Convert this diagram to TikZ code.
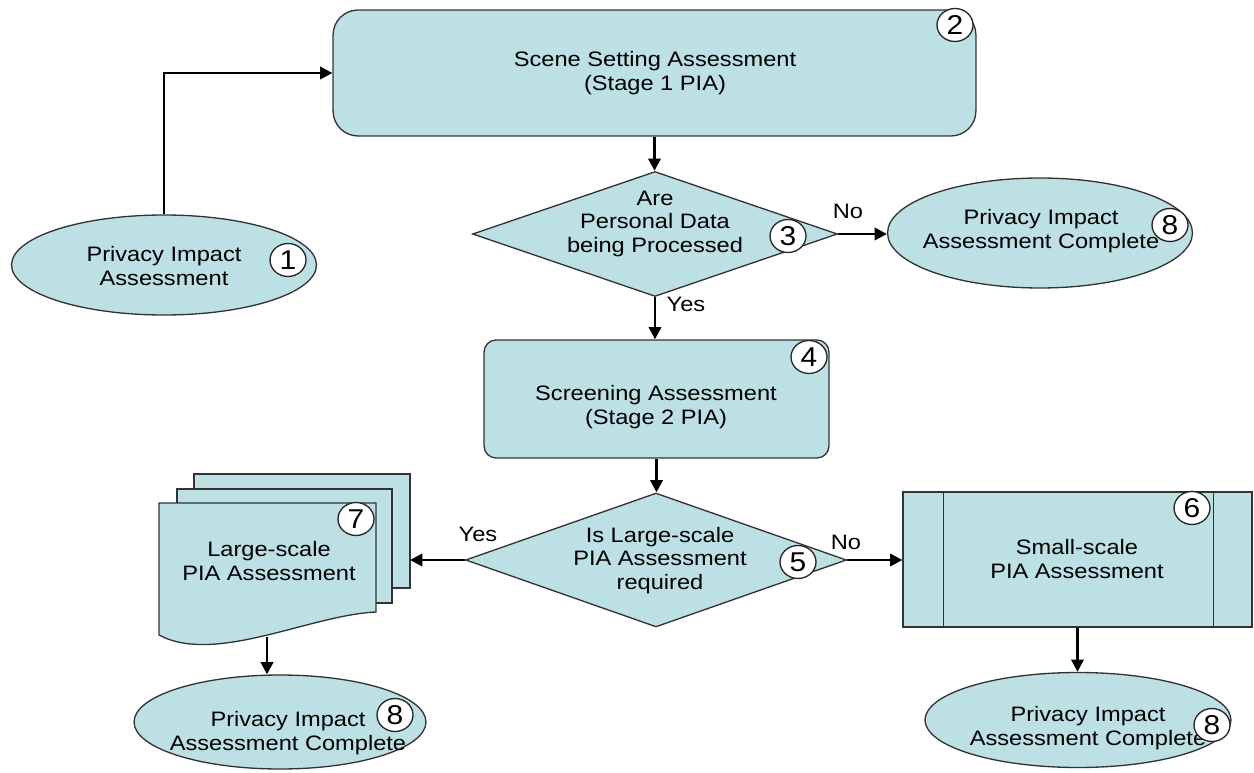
\documentclass[tikz,border=0pt]{standalone}
\usepackage{fontspec}
\usepackage{graphicx}
\setmainfont{Liberation Sans}
\usetikzlibrary{shapes.geometric,arrows.meta}
\definecolor{piablue}{RGB}{188,224,228}
\newcommand{\mytxt}[1]{\scalebox{1.13}[1]{\begin{tabular}{@{}c@{}}#1\end{tabular}}}
\newcommand{\mydig}[1]{\scalebox{1.1}[1]{#1}}
\begin{document}
\begin{tikzpicture}[x=0.02cm,y=-0.02cm,
  shp/.style={draw=black!80,line width=0.75pt,fill=piablue,inner sep=0pt},
  txt/.style={inner sep=0pt,font=\fontsize{11.9}{13.3}\selectfont},
  num/.style={ellipse,draw=black!85,line width=0.75pt,fill=white,minimum width=0.72cm,minimum height=0.66cm,inner sep=0pt,font=\fontsize{15.5}{16}\selectfont},
  conn/.style={line width=1.6pt,-{Triangle[length=7pt,width=7pt]}},
  yn/.style={inner sep=0pt,font=\fontsize{11.9}{13.3}\selectfont}]
\useasboundingbox (0,0) rectangle (1254,773);

% shapes
\node[shp,rectangle,rounded corners=0.5cm,minimum width=12.86cm,minimum height=2.52cm] (b2) at (654.5,73) {};
\node[shp,diamond,minimum width=7.3cm,minimum height=2.5cm] (d3) at (655,234) {};
\node[shp,ellipse,minimum width=6.1cm,minimum height=2.2cm] (e8a) at (1040,233) {};
\node[shp,ellipse,minimum width=6.1cm,minimum height=2.0cm] (e1) at (164,265) {};
\node[shp,rectangle,rounded corners=0.24cm,minimum width=6.9cm,minimum height=2.36cm] (b4) at (656.5,399) {};
\node[shp,diamond,minimum width=7.62cm,minimum height=2.68cm] (d5) at (656,560) {};
\node[shp,rectangle,minimum width=6.98cm,minimum height=2.7cm] (b6) at (1077.5,559.5) {};
\draw[draw=black!80,line width=0.75pt] (b6.north west) ++(41,0) -- ++(0,135);
\draw[draw=black!80,line width=0.75pt] (b6.north east) ++(-39,0) -- ++(0,135);
\node[shp,ellipse,minimum width=5.84cm,minimum height=1.88cm] (e7) at (280,722) {};
\node[shp,ellipse,minimum width=6.12cm,minimum height=1.9cm] (e8c) at (1078,720) {};

% multi-document stack
\draw[shp] (194,474) rectangle (410,588);
\draw[shp] (177,489) rectangle (392,603);
\draw[shp] (159,503) -- (376,503) -- (376,612) .. controls (310,615) and (215,665) .. (159,635) -- cycle;
\coordinate (docR) at (410,560);
\coordinate (docB) at (267,637);

% texts
\node[txt] (t2) at (655,74) {\mytxt{Scene Setting Assessment\\(Stage 1 PIA)}};
\node[txt] (t3) at (655,224) {\mytxt{Are\\Personal Data\\being Processed}};
\node[txt] (t8a) at (1041,232) {\mytxt{Privacy Impact\\Assessment Complete}};
\node[txt] (t1) at (164,269) {\mytxt{Privacy Impact\\Assessment}};
\node[txt] (t4) at (656,408) {\mytxt{Screening Assessment\\(Stage 2 PIA)}};
\node[txt] (t5) at (660,561) {\mytxt{Is Large-scale\\PIA Assessment\\required}};
\node[txt] (t7) at (269,564) {\mytxt{Large-scale\\PIA Assessment}};
\node[txt] (t6) at (1077,562) {\mytxt{Small-scale\\PIA Assessment}};
\node[txt] (t8b) at (288,734) {\mytxt{Privacy Impact\\Assessment Complete}};
\node[txt] (t8c) at (1088,729) {\mytxt{Privacy Impact\\Assessment Complete}};

% number circles
\node[num] (n1) at (288,260) {\mydig{1}};
\node[num] (n2) at (955,25) {\mydig{2}};
\node[num] (n3) at (788,236) {\mydig{3}};
\node[num] (n4) at (809,357) {\mydig{4}};
\node[num] (n5) at (798,562) {\mydig{5}};
\node[num] (n6) at (1192,508) {\mydig{6}};
\node[num] (n7) at (356,519) {\mydig{7}};
\node[num] (n8a) at (1170,225) {\mydig{8}};
\node[num] (n8b) at (395,715) {\mydig{8}};
\node[num] (n8c) at (1212,725) {\mydig{8}};

% connectors
\draw[conn] (e1.north) |- (b2.west);
\draw[conn] (b2.south) -- (b2.south |- d3.north);
\draw[conn] (d3.east) -- (d3.east -| e8a.west);
\draw[conn] (d3.south) -- (d3.south |- b4.north);
\draw[conn] (b4.south) -- (b4.south |- d5.north);
\draw[conn] (d5.west) -- (docR);
\draw[conn] (d5.east) -- (d5.east -| b6.west);
\draw[conn] (docB) -- (docB |- e7.north);
\draw[conn] (b6.south) -- (b6.south |- e8c.north);

% labels
\node[yn] (lno1) at (848,214) {\mytxt{No}};
\node[yn] (lyes1) at (686,307) {\mytxt{Yes}};
\node[yn] (lyes2) at (478,537) {\mytxt{Yes}};
\node[yn] (lno2) at (846,545) {\mytxt{No}};
\end{tikzpicture}
\end{document}
